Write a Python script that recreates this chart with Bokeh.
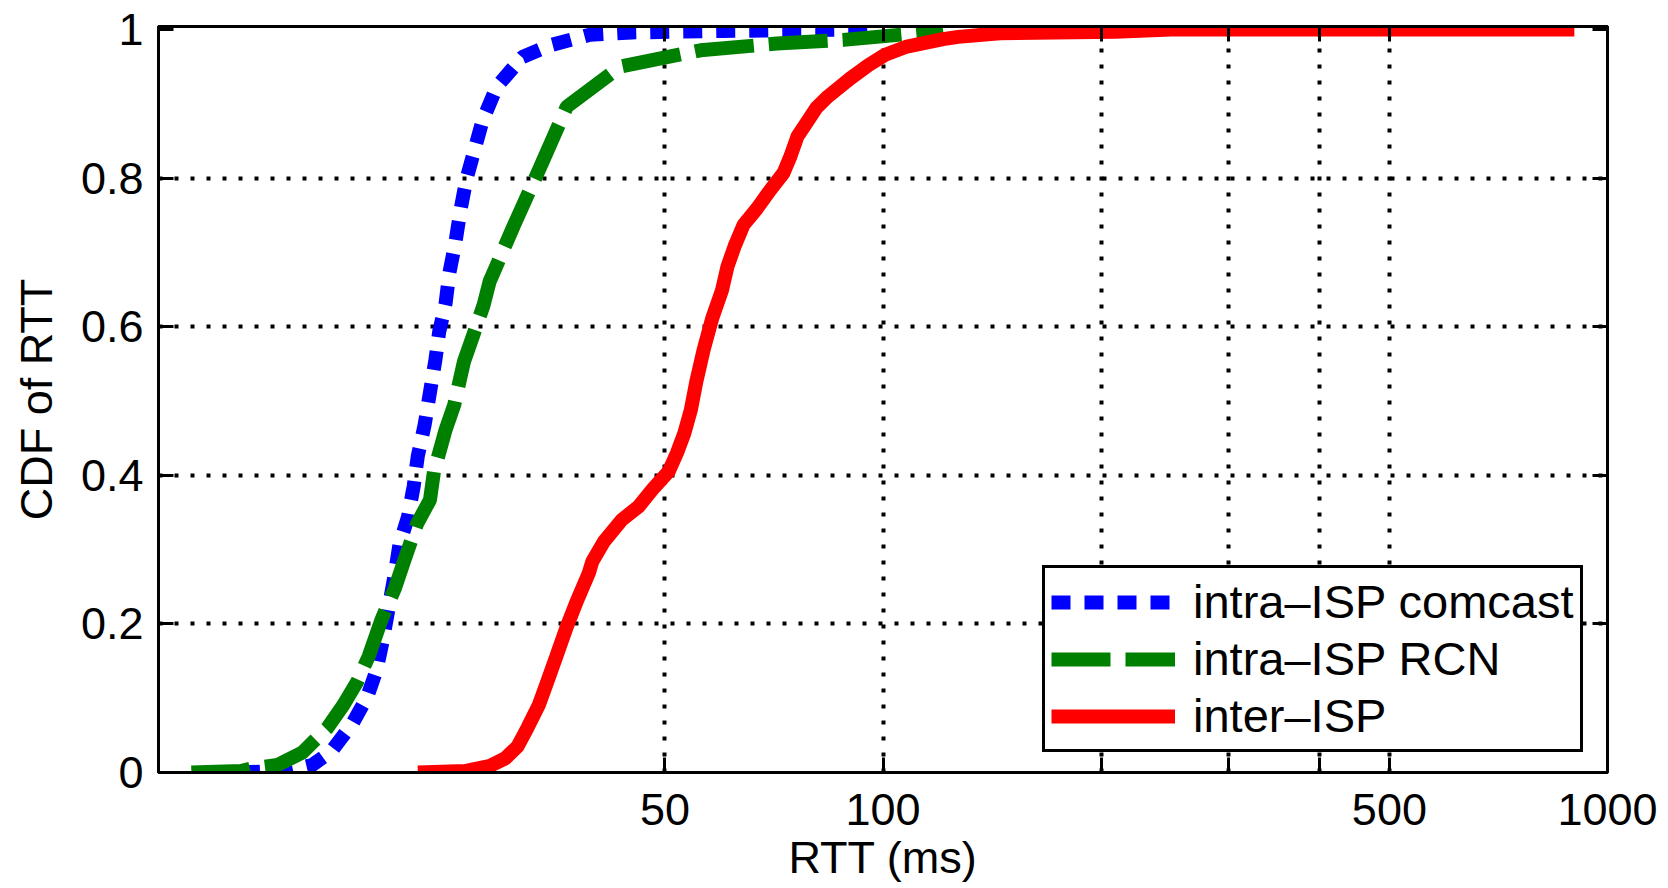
from bokeh.plotting import figure
from bokeh.models import FixedTicker, LogAxis, LinearAxis, Legend, LegendItem, Range1d
from bokeh.embed import file_html
from bokeh.resources import INLINE

# ---- data ----
x_comcast = [13.0, 15.2, 16.3, 17.3, 18.5, 19.4, 20.0, 20.4, 21.2, 21.5, 22.1, 22.5, 22.8, 23.3,
             23.7, 24.1, 24.4, 24.9, 25.2, 25.7, 26.1, 26.6, 27.3, 28.0, 29.3, 31.8, 34.8, 39.4,
             45.0, 60.0, 97.0]
y_comcast = [0.0, 0.003, 0.010, 0.028, 0.065, 0.101, 0.138, 0.178, 0.268, 0.306, 0.344, 0.385,
             0.426, 0.468, 0.512, 0.554, 0.593, 0.631, 0.672, 0.714, 0.756, 0.798, 0.838, 0.877,
             0.923, 0.963, 0.979, 0.993, 0.996, 0.998, 1.0]

x_rcn = [11.1, 13.0, 13.5, 14.6, 15.8, 17.1, 18.0, 18.8, 19.5, 20.3, 21.2, 21.85, 22.75, 23.7,
         24.0, 24.9, 25.6, 26.4, 27.2, 28.1, 28.65, 30.9, 33.65, 36.6, 43.4, 56.0, 71.4, 88.2,
         111.4, 121.0]
y_rcn = [0.0, 0.002, 0.006, 0.010, 0.027, 0.060, 0.091, 0.122, 0.156, 0.205, 0.248, 0.286, 0.335,
         0.367, 0.405, 0.461, 0.495, 0.553, 0.589, 0.629, 0.661, 0.735, 0.815, 0.896, 0.950,
         0.972, 0.981, 0.986, 0.995, 1.0]

x_inter = [22.8, 26.5, 28.7, 30.1, 31.3, 32.3, 33.5, 34.4, 35.4, 36.6, 37.7, 39.25, 39.7, 41.2,
           43.6, 46.0, 48.25, 50.6, 51.95, 53.2, 54.3, 55.25, 56.55, 58.1, 59.95, 61.0, 62.5,
           64.2, 67.0, 69.9, 72.9, 74.5, 76.2, 78.5, 81.0, 84.0, 90.1, 95.5, 100.7, 107.9, 121.0,
           127.0, 145.0, 209.0, 250.0, 900.0]
y_inter = [0.0, 0.002, 0.009, 0.019, 0.035, 0.060, 0.091, 0.122, 0.156, 0.196, 0.228, 0.268,
           0.284, 0.311, 0.340, 0.358, 0.383, 0.405, 0.430, 0.457, 0.488, 0.526, 0.569, 0.611,
           0.649, 0.681, 0.710, 0.737, 0.759, 0.784, 0.807, 0.829, 0.856, 0.875, 0.895, 0.910,
           0.934, 0.952, 0.966, 0.977, 0.987, 0.990, 0.995, 0.997, 1.0, 1.0]

series_labels = ["intra\u2013ISP comcast", "intra\u2013ISP RCN", "inter\u2013ISP"]

x_ticks = [50, 100, 200, 300, 400, 500, 1000]
x_tick_labels = ["50", "100", "", "", "", "500", "1000"]
x_grid = [50, 100, 200, 300, 400, 500]
y_ticks = [0, 0.2, 0.4, 0.6, 0.8, 1]
y_tick_labels = ["0", "0.2", "0.4", "0.6", "0.8", "1"]
y_grid = [0.2, 0.4, 0.6, 0.8]
x_title = "RTT (ms)"
y_title = "CDF of RTT"

FONT = "Liberation Sans"

p = figure(x_axis_type="log", x_range=Range1d(10, 1000), y_range=Range1d(0, 1.004),
           frame_width=1449, frame_height=746,
           min_border_left=158, min_border_top=26, min_border_right=61, min_border_bottom=5,
           output_backend="svg", toolbar_location=None,
           x_axis_label=x_title, y_axis_label=y_title)
p.background_fill_color = "white"
p.border_fill_color = "white"
p.outline_line_color = "black"
p.outline_line_width = 3

r1 = p.line(x_comcast, y_comcast, line_color="#0000FF", line_width=14, line_dash="19 14")
r2 = p.line(x_rcn, y_rcn, line_color="#008000", line_width=14, line_dash="59 15")
r3 = p.line(x_inter, y_inter, line_color="#FF0000", line_width=14)

xa = p.xaxis[0]
xa.ticker = FixedTicker(ticks=x_ticks)
xa.major_label_overrides = {t: l for t, l in zip(x_ticks, x_tick_labels)}
ya = p.yaxis[0]
ya.ticker = FixedTicker(ticks=y_ticks)
ya.major_label_overrides = {t: l for t, l in zip(y_ticks, y_tick_labels)}

for ax in (xa, ya):
    ax.axis_line_width = 3
    ax.major_tick_line_width = 3
    ax.major_tick_in = 15
    ax.major_tick_out = 0
    ax.minor_tick_line_color = None
    ax.major_label_text_font = FONT
    ax.major_label_text_font_size = "45px"
    ax.major_label_text_color = "black"
    ax.axis_label_text_font = FONT
    ax.axis_label_text_font_size = "45px"
    ax.axis_label_text_font_style = "normal"
    ax.axis_label_text_color = "black"
xa.major_label_standoff = 21
xa.axis_label_standoff = 4
ya.major_label_standoff = 15
ya.axis_label_standoff = 16

top = LogAxis(ticker=FixedTicker(ticks=x_ticks))
right = LinearAxis(ticker=FixedTicker(ticks=y_ticks))
for ax in (top, right):
    ax.axis_line_width = 3
    ax.major_tick_line_width = 3
    ax.major_tick_in = 15
    ax.major_tick_out = 0
    ax.minor_tick_line_color = None
    ax.major_label_text_font_size = "0px"
    ax.major_label_text_color = None
    ax.major_label_standoff = 0
p.add_layout(top, "above")
p.add_layout(right, "right")

p.xgrid.ticker = FixedTicker(ticks=x_grid)
p.ygrid.ticker = FixedTicker(ticks=y_grid)
for g in (p.xgrid, p.ygrid):
    g.grid_line_color = "black"
    g.grid_line_width = 4
    g.grid_line_dash = "4 12"

legend = Legend(items=[LegendItem(label=series_labels[0], renderers=[r1]),
                       LegendItem(label=series_labels[1], renderers=[r2]),
                       LegendItem(label=series_labels[2], renderers=[r3])],
                location=(884, 20))
legend.label_text_font = FONT
legend.label_text_font_size = "47px"
legend.label_text_color = "black"
legend.glyph_width = 124
legend.glyph_height = 40
legend.label_height = 40
legend.label_standoff = 18
legend.spacing = 2
legend.padding = 6
legend.margin = 0
legend.border_line_color = "black"
legend.border_line_alpha = 1.0
legend.border_line_width = 3
legend.background_fill_color = "white"
legend.background_fill_alpha = 1.0
p.add_layout(legend)

open("out.html", "w").write(file_html(p, INLINE))
